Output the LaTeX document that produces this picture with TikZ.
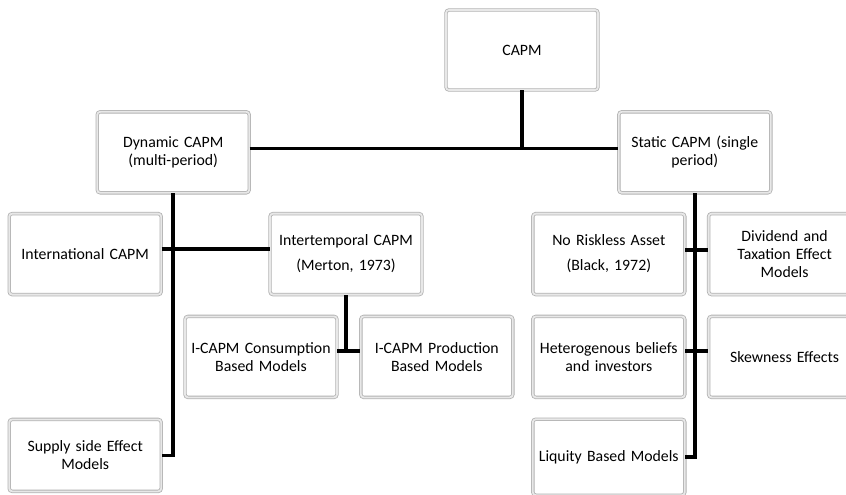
\documentclass[tikz,border=0pt]{standalone}
\usepackage{fontspec}
\setmainfont{Carlito}
\usetikzlibrary{positioning}

\begin{document}
\begin{tikzpicture}[
      x=1pt, y=-1pt,
      box/.style={rectangle, draw=gray!60, double=gray!18, double distance=1.8pt, line width=0.8pt,
        rounded corners=3pt, fill=white, text width=150pt, align=center,
        minimum width=152pt, minimum height=81pt, inner sep=1pt,
        font=\fontsize{15.8}{18}\selectfont},
      line/.style={draw, line width=3.5pt}
    ]
    \useasboundingbox (0,0) rectangle (846,495);

    % Nodes
    \node[box, minimum height=80pt] (capm) at (522,50) {CAPM};
    \node[box, below left=21pt and 196pt of capm] (dyn) {Dynamic CAPM\\(multi-period)};
    \node[box, below right=21pt and 20pt of capm] (stat) {Static CAPM (single\\period)};

    \node[box, below=20pt of dyn, xshift=-88pt] (intl) {International CAPM};
    \node[box, right=108pt of intl] (inter) {Intertemporal CAPM\\[7pt](Merton, 1973)};
    \node[box, below=21pt of inter, xshift=-85pt] (cons) {I-CAPM Consumption\\Based Models};
    \node[box, right=23pt of cons] (prod) {I-CAPM Production\\Based Models};
    \node[box, below=124pt of intl, minimum height=72pt] (supp) {Supply side Effect\\Models};

    \node[box, below=20pt of stat, xshift=-86pt] (norisk) {No Riskless Asset\\[7pt](Black, 1972)};
    \node[box, right=23pt of norisk] (div) {Dividend and\\Taxation Effect\\Models};
    \node[box, below=21pt of norisk] (het) {Heterogenous beliefs\\and investors};
    \node[box, below=21pt of div] (skew) {Skewness Effects};
    \node[box, below=21pt of het, minimum height=76pt] (liq) {Liquity Based Models};

    % Connections
    \draw[line] ([yshift=4pt]dyn.east) -- ([yshift=4pt]stat.west);
    \draw[line] (capm) -- ([yshift=4pt]capm |- dyn.east);
    \draw[line] (dyn) |- (supp);
    \draw[line] ([yshift=5pt]intl.east) -- ([yshift=5pt]inter.west);
    \draw[line] (inter) -- ([yshift=6pt]inter |- cons.east);
    \draw[line] ([yshift=6pt]cons.east) -- ([yshift=6pt]prod.west);
    \draw[line] (stat) |- (liq);
    \draw[line] ([yshift=4pt]norisk.east) -- ([yshift=4pt]div.west);
    \draw[line] ([yshift=6pt]het.east) -- ([yshift=6pt]skew.west);
  \end{tikzpicture}
\end{document}
